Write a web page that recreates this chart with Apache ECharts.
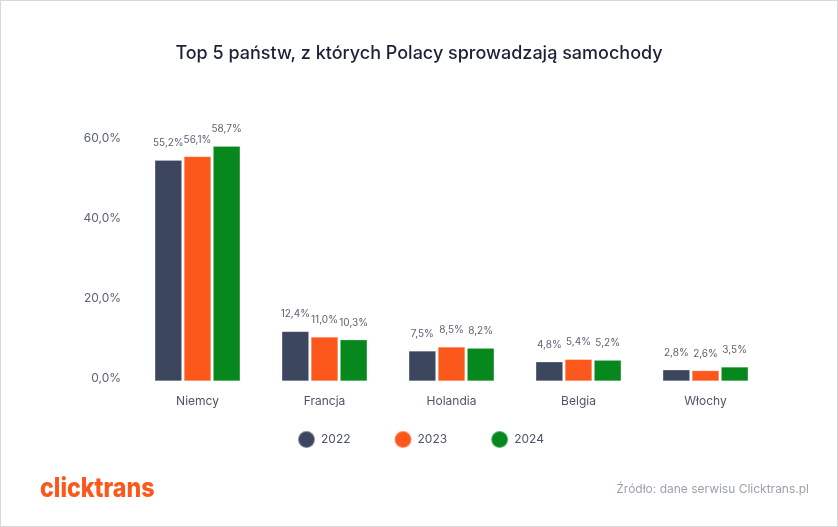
<!DOCTYPE html>
<html>
<head>
<meta charset="utf-8">
<script src="https://cdn.jsdelivr.net/npm/echarts@6/dist/echarts.min.js"></script>
<style>
html,body{margin:0;padding:0;background:#fff;}
#c{width:838px;height:527px;box-sizing:border-box;border:1px solid #d6d8de;}
</style>
</head>
<body>
<div id="c"></div>
<script>
const categories = ['Niemcy', 'Francja', 'Holandia', 'Belgia', 'Włochy'];
const years = ['2022', '2023', '2024'];
const values2022 = [55.2, 12.4, 7.5, 4.8, 2.8];
const values2023 = [56.1, 11.0, 8.5, 5.4, 2.6];
const values2024 = [58.7, 10.3, 8.2, 5.2, 3.5];
const colors = ['#3c465e', '#fc581c', '#06881f'];

const fmt = v => v.toFixed(1).replace('.', ',') + '%';
const font = 'Inter, "Noto Sans", sans-serif';
const chart = echarts.init(document.getElementById('c'), null, {renderer: 'canvas'});
const seriesData = [values2022, values2023, values2024];

chart.setOption({
  animation: false,
  backgroundColor: '#ffffff',
  title: {
    text: 'Top 5 państw, z których Polacy sprowadzają samochody',
    left: 'center',
    top: 39,
    textStyle: {fontFamily: font, fontSize: 18, fontWeight: 500, color: '#1b2236'}
  },
  legend: {
    data: years,
    left: 291,
    top: 424,
    icon: 'circle',
    itemWidth: 17,
    itemHeight: 17,
    itemGap: 43,
    textStyle: {fontFamily: font, fontSize: 12, color: '#4d5468', padding: [0,0,0,1]}
  },
  grid: {left: 133, right: 68, top: 140, bottom: 145, containLabel: false},
  xAxis: {
    type: 'category',
    data: categories,
    axisLine: {show: false},
    axisTick: {show: false},
    axisLabel: {fontFamily: font, fontSize: 12, color: '#4d5468', margin: 14}
  },
  yAxis: {
    type: 'value',
    min: 0,
    max: 60,
    interval: 20,
    splitLine: {show: false},
    axisLine: {show: false},
    axisTick: {show: false},
    axisLabel: {fontFamily: font, fontSize: 12, color: '#5b6275', margin: 13, verticalAlign: 'bottom', lineHeight: 6, formatter: v => fmt(v)}
  },
  series: years.map((y, i) => ({
    name: y,
    type: 'bar',
    data: seriesData[i],
    barWidth: 27,
    barGap: '8%',
    itemStyle: {color: colors[i], borderColor: 'rgba(255,255,255,0.35)', borderWidth: 0.5},
    label: {
      show: true,
      position: 'top',
      distance: 12,
      fontFamily: font,
      fontSize: 10,
      color: '#5b6275',
      formatter: p => fmt(p.value)
    }
  })),
  graphic: [
    {
      type: 'text',
      x: 39,
      y: 474,
      scaleX: 0.86,
      style: {
        text: 'clicktrans',
        fontFamily: font,
        fontWeight: 800,
        fontSize: 27,
        fill: '#fc581c'
      }
    },
    {
      type: 'text',
      right: 28,
      top: 482,
      style: {
        text: 'Źródło: dane serwisu Clicktrans.pl',
        fontFamily: font,
        fontSize: 12,
        fill: '#9ca1ae'
      }
    }
  ]
});
</script>
</body>
</html>
